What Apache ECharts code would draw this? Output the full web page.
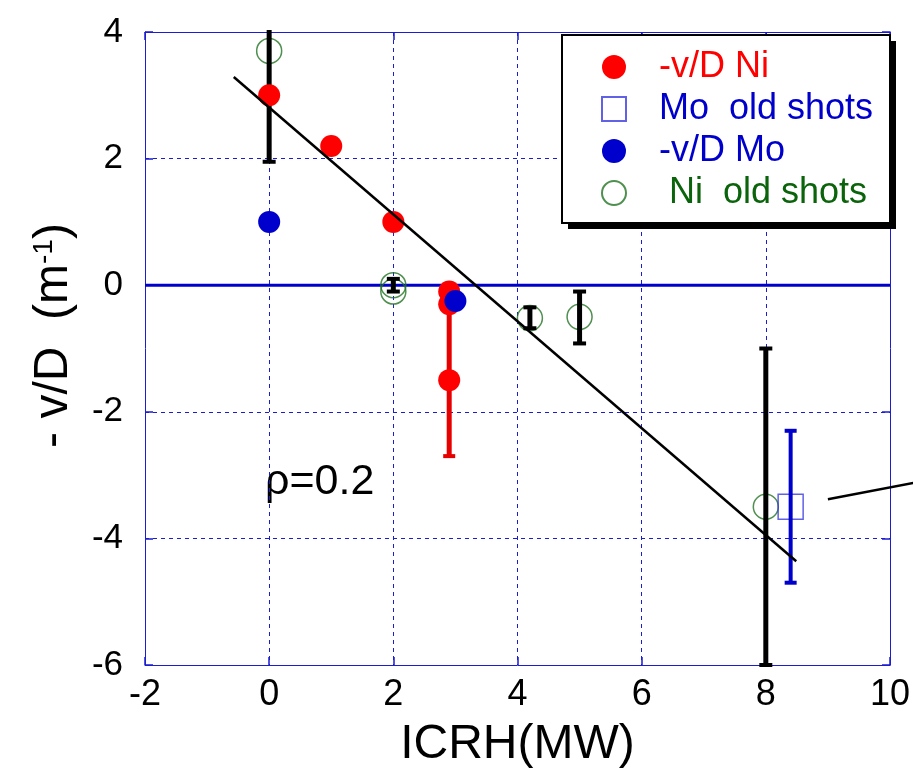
<!DOCTYPE html>
<html>
<head>
<meta charset="utf-8">
<script src="https://cdn.jsdelivr.net/npm/echarts@6/dist/echarts.min.js"></script>
<style>html,body{margin:0;padding:0;background:#fff;}#c{width:913px;height:776px;}</style>
</head>
<body>
<div id="c"></div>
<script>
// ---- data ----
const xRange = [-2, 10];
const yRange = [-6, 4];
const tickStep = 2;

const niX = [0, 1, 2, 2.9, 2.9, 2.9];
const niY = [3.0, 2.2, 1.0, -0.1, -0.3, -1.5];

const moX = [0, 3.0];
const moY = [1.0, -0.25];

const moOldX = [8.4];
const moOldY = [-3.5];

const niOldX = [0, 2, 2, 4.2, 5.0, 8.0];
const niOldY = [3.7, 0.0, -0.1, -0.52, -0.5, -3.5];

// error bars: x, low, high
const niOldErrX = [0, 2, 4.2, 5.0, 8.0];
const niOldErrLo = [1.95, -0.1, -0.68, -0.92, -6.0];
const niOldErrHi = [5.45, 0.1, -0.35, -0.1, -1.0];

const niErrX = [2.9];
const niErrLo = [-2.7];
const niErrHi = [-0.3];

const moOldErrX = [8.4];
const moOldErrLo = [-4.7];
const moOldErrHi = [-2.3];

// fit line and a stray segment beyond the frame
const fitX = [-0.57, 8.49];
const fitY = [3.29, -4.36];
const sideX = [9.0, 10.4];
const sideY = [-3.38, -3.12];

const zeroX = [-2, 10];
const zeroY = [0, 0];

const names = ['-v/D Ni', 'Mo  old shots', '-v/D Mo', ' Ni  old shots'];
const rhoText = 'ρ=0.2';

// ---- helpers ----
const zip = (a, b) => a.map((v, i) => [v, b[i]]);
const zip3 = (a, b, c) => a.map((v, i) => [v, b[i], c[i]]);
const FONT = '"Liberation Sans", Arial, sans-serif';
const BLUE = '#1c1cd0';

function errRender(color, barW, capW, capH) {
  return function (params, api) {
    const x = api.value(0), lo = api.value(1), hi = api.value(2);
    const p1 = api.coord([x, lo]);
    const p2 = api.coord([x, hi]);
    const cs = params.coordSys;
    const top = cs.y, bot = cs.y + cs.height;
    let yLo = p1[1], yHi = p2[1];
    const capLo = yLo <= bot + 1;
    const capHi = yHi >= top - 1;
    yLo = Math.min(yLo, bot);
    yHi = Math.max(yHi, top - 2);
    const cx = p1[0];
    const children = [{
      type: 'line',
      shape: { x1: cx, y1: yLo, x2: cx, y2: yHi },
      style: { stroke: color, lineWidth: barW }
    }];
    if (capLo) children.push({ type: 'rect', shape: { x: cx - capW / 2, y: yLo - capH / 2, width: capW, height: capH }, style: { fill: color } });
    if (capHi) children.push({ type: 'rect', shape: { x: cx - capW / 2, y: yHi - capH / 2, width: capW, height: capH }, style: { fill: color } });
    return { type: 'group', children };
  };
}

// polyline through all points of a series, not clipped to the frame
function polyRender(xs, ys, color, width) {
  return function (params, api) {
    if (params.dataIndex !== 0) return null;
    const pts = xs.map((x, i) => api.coord([x, ys[i]]));
    return { type: 'polyline', shape: { points: pts }, style: { stroke: color, lineWidth: width, fill: null } };
  };
}

const chart = echarts.init(document.getElementById('c'), null, { renderer: 'canvas' });

const axisCommon = {
  type: 'value',
  interval: tickStep,
  axisLine: { show: true, onZero: false, lineStyle: { color: BLUE, width: 1 } },
  axisTick: { show: true, inside: true, length: 8, lineStyle: { color: BLUE, width: 1.5 } }
};

// legend frame geometry
const LG = { x: 562, y: 35, w: 328, h: 188 };

const option = {
  animation: false,
  backgroundColor: '#fff',
  grid: { left: 145, right: 22, top: 32, bottom: 111, show: false },
  xAxis: [
    Object.assign({}, axisCommon, {
      min: xRange[0], max: xRange[1], position: 'bottom',
      name: 'ICRH(MW)', nameLocation: 'middle', nameGap: 56,
      nameTextStyle: { fontSize: 48, fontFamily: FONT, color: '#000' },
      axisLabel: { fontSize: 36, fontFamily: FONT, color: '#000', margin: 12 },
      splitLine: { show: true, lineStyle: { color: BLUE, type: [4, 4], width: 1 } }
    }),
    Object.assign({}, axisCommon, {
      min: xRange[0], max: xRange[1], position: 'top',
      axisLabel: { show: false }, splitLine: { show: false }
    })
  ],
  yAxis: [
    Object.assign({}, axisCommon, {
      min: yRange[0], max: yRange[1], position: 'left',
      name: '- v/D  (m{sup|-1})', nameLocation: 'middle', nameGap: 67, nameRotate: 90,
      nameTextStyle: {
        fontSize: 48, fontFamily: FONT, color: '#000', padding: [0, 0, 0, 26],
        rich: { sup: { fontSize: 28, fontFamily: FONT, color: '#000', verticalAlign: 'top', lineHeight: 48 } }
      },
      axisLabel: { fontSize: 35, fontFamily: FONT, color: '#000', margin: 22, padding: [0, 0, 8, 0] },
      splitLine: { show: true, lineStyle: { color: BLUE, type: [4, 4], width: 1 } }
    }),
    Object.assign({}, axisCommon, {
      min: yRange[0], max: yRange[1], position: 'right',
      axisLabel: { show: false }, splitLine: { show: false }
    })
  ],
  legend: {
    orient: 'vertical', left: LG.x, top: LG.y, z: 20,
    padding: [12, 19, 10, 39], itemGap: 2, itemWidth: 24, itemHeight: 24,
    selectedMode: false,
    backgroundColor: 'transparent', borderWidth: 0,
    textStyle: { fontSize: 36, fontFamily: FONT, lineHeight: 40, padding: [0, 0, 0, 28] },
    data: [
      { name: names[0], textStyle: { color: '#ff0000' } },
      { name: names[1], textStyle: { color: '#0000cc' } },
      { name: names[2], textStyle: { color: '#0000cc' } },
      { name: names[3], textStyle: { color: '#0b640b' } }
    ]
  },
  graphic: [
    {
      type: 'rect', z: 15, silent: true,
      shape: { x: LG.x + 6, y: LG.y + 6, width: LG.w, height: LG.h },
      style: { fill: '#000' }
    },
    {
      type: 'rect', z: 16, silent: true,
      shape: { x: LG.x, y: LG.y, width: LG.w, height: LG.h },
      style: { fill: '#fff', stroke: '#000', lineWidth: 2 }
    },
    {
      type: 'text', left: 265, top: 461,
      style: { text: rhoText, font: '43px ' + FONT, fill: '#000' }
    }
  ],
  series: [
    {
      name: 'zero', type: 'line', data: zip(zeroX, zeroY), showSymbol: false, symbol: 'none',
      lineStyle: { color: '#0000cc', width: 3 }, silent: true, z: 1
    },
    {
      name: names[3], type: 'scatter', data: zip(niOldX, niOldY), symbol: 'circle', symbolSize: 25,
      itemStyle: { color: 'rgba(255,255,255,0)', borderColor: '#237323', borderWidth: 1.5 }, z: 2
    },
    {
      name: 'errNiOld', type: 'custom', data: zip3(niOldErrX, niOldErrLo, niOldErrHi),
      renderItem: errRender('#000', 5, 13, 4), z: 3, silent: true
    },
    {
      name: 'errNi', type: 'custom', data: zip3(niErrX, niErrLo, niErrHi),
      renderItem: errRender('#e60000', 5, 12, 4), z: 3, silent: true
    },
    {
      name: names[1], type: 'scatter', data: zip(moOldX, moOldY), symbol: 'rect', symbolSize: 25,
      itemStyle: { color: 'rgba(255,255,255,0)', borderColor: '#3a3ae0', borderWidth: 1.5 }, z: 2
    },
    {
      name: 'errMoOld', type: 'custom', data: zip3(moOldErrX, moOldErrLo, moOldErrHi),
      renderItem: errRender('#0000cc', 4, 12, 4), z: 3, silent: true
    },
    {
      name: names[0], type: 'scatter', data: zip(niX, niY), symbol: 'circle', symbolSize: 22,
      itemStyle: { color: '#ff0000', opacity: 1 }, z: 4
    },
    {
      name: names[2], type: 'scatter', data: zip(moX, moY), symbol: 'circle', symbolSize: 22,
      itemStyle: { color: '#0000cc', opacity: 1 }, z: 5
    },
    {
      name: 'fit', type: 'line', data: zip(fitX, fitY), symbol: 'none',
      lineStyle: { color: '#000', width: 2.5 }, z: 6, silent: true
    },
    {
      name: 'side', type: 'custom', data: zip(sideX, sideY), clip: false,
      renderItem: polyRender(sideX, sideY, '#000', 2.5), z: 6, silent: true
    }
  ]
};
chart.setOption(option);
</script>
</body>
</html>
